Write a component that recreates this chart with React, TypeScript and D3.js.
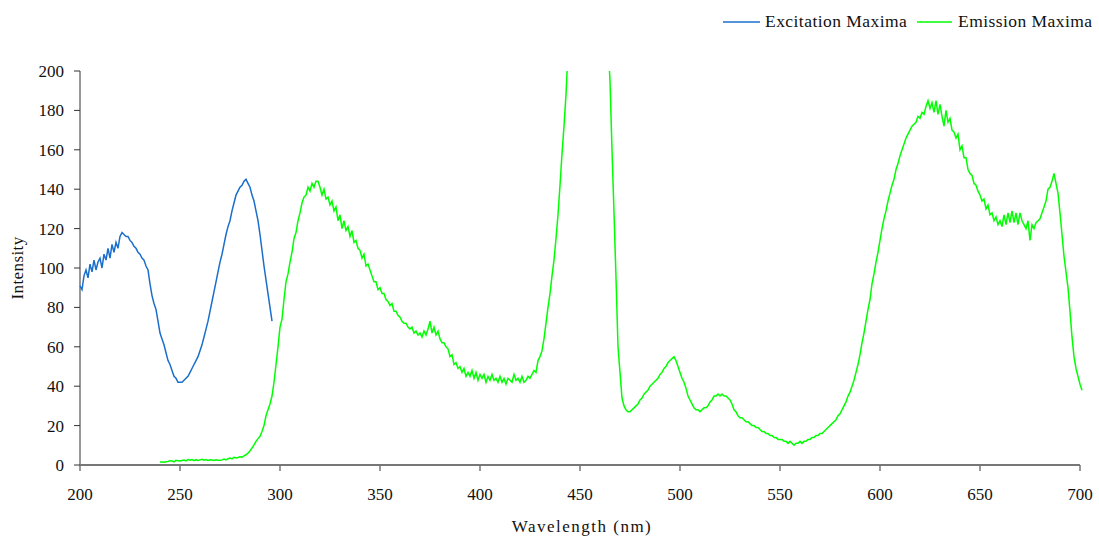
import React from "react";
import * as d3 from "d3";

const xTicks = [200, 250, 300, 350, 400, 450, 500, 550, 600, 650, 700];
const yTicks = [0, 20, 40, 60, 80, 100, 120, 140, 160, 180, 200];

const excitationStart = 200;
const excitationValues = [
  91, 89, 96, 99, 95, 102, 98, 104, 99, 103,
  105, 100, 107, 104, 110, 105, 112, 108, 113, 110,
  116, 118, 117, 116, 116, 114, 113, 111, 110, 108,
  107, 105, 104, 101, 99, 92, 86, 82, 79, 73,
  67, 64, 61, 57, 53, 51, 48, 45, 44, 42,
  42, 42, 43, 44, 45, 47, 49, 51, 53, 55,
  58, 61, 65, 69, 73, 78, 83, 88, 93, 98,
  103, 107, 112, 117, 121, 124, 129, 133, 137, 139,
  141, 142, 144, 145, 143, 141, 137, 134, 129, 124,
  117, 109, 101, 94, 87, 80, 73,
];

const emissionStart = 240;
const emissionValues = [
  1.5, 1.5, 1.4, 1.6, 1.8, 2.2, 2.0, 1.6, 2.4, 2.2,
  2.0, 2.3, 2.5, 2.1, 2.8, 2.4, 2.8, 2.2, 2.7, 2.3,
  2.6, 2.9, 2.4, 2.8, 2.3, 2.7, 2.5, 2.3, 2.6, 2.4,
  2.4, 2.6, 3.0, 2.6, 3.2, 3.5, 3.1, 3.9, 3.6, 3.8,
  4.2, 4.0, 4.6, 5.2, 6.0, 7.2, 8.6, 10.2, 12.0, 13.4,
  14.6, 17, 20, 25, 28, 31, 35, 42, 51, 60,
  70, 74, 84, 93, 97, 103, 108, 115, 118, 124,
  128, 133, 136, 137, 141, 139, 143, 141, 144, 144,
  141, 137, 140, 135, 136, 132, 134, 129, 131, 124,
  127, 120, 124, 119, 121, 116, 119, 113, 114, 110,
  109, 105, 107, 101, 102, 99, 96, 93, 93, 89,
  90, 87, 87, 84, 83, 81, 82, 78, 78, 76,
  75, 73, 72, 72, 70, 69, 70, 67, 68, 66,
  67, 65, 68, 66, 69, 73, 67, 70, 66, 68,
  64, 62, 62, 60, 59, 55, 56, 51, 52, 49,
  50, 47, 49, 45, 47, 45, 48, 44, 47, 43,
  46, 44, 46, 42, 45, 43, 46, 43, 44, 42,
  45, 42, 44, 41, 44, 43, 42, 46, 43, 44,
  42, 45, 42, 43, 45, 44, 46, 48, 47, 53,
  55, 58, 64, 72, 80, 87, 96, 104, 115, 127,
  142, 158, 172, 188, 210, 240, 275, 310, 350, 380,
  420, 440, 450, 455, 450, 440, 420, 400, 370, 340,
  300, 280, 260, 240, 215, 195, 160, 128, 95, 60,
  47, 34, 30, 28, 27, 27, 28, 29, 30, 31,
  33, 34, 36, 37, 38, 40, 41, 42, 43, 44,
  46, 47, 49, 50, 52, 53, 54, 55, 53, 50,
  47, 44, 42, 39, 35, 33, 31, 29, 28, 28,
  27, 28, 29, 29, 30, 32, 33, 35, 35, 36,
  35, 36, 35, 35, 34, 33, 31, 28, 27, 25,
  24, 24, 23, 22, 22, 21, 20, 20, 19, 19,
  18, 17, 17, 16, 16, 15, 15, 14, 14, 13,
  13, 13, 12, 12, 11, 12, 11, 10, 11, 11,
  12, 11, 12, 12, 13, 13, 14, 14, 15, 15,
  16, 16, 17, 18, 19, 20, 21, 22, 23, 25,
  26, 28, 30, 32, 35, 37, 40, 43, 47, 51,
  56, 62, 67, 73, 79, 84, 92, 97, 103, 108,
  114, 120, 125, 129, 134, 138, 142, 145, 150, 153,
  157, 160, 163, 166, 168, 170, 172, 173, 174, 177,
  176, 179, 178, 182, 185, 181, 184, 179, 185, 178,
  183, 177, 172, 180, 174, 176, 170, 169, 166, 168,
  160, 162, 156, 156, 150, 148, 147, 143, 142, 139,
  137, 134, 135, 130, 132, 127, 128, 124, 126, 122,
  124, 121, 127, 122, 128, 123, 129, 123, 128, 122,
  128, 124, 122, 120, 124, 114, 122, 120, 123, 124,
  125, 128, 131, 134, 140, 141, 144, 148, 143, 138,
  128, 117, 106, 98, 90, 78, 65, 55, 49, 45,
  41, 38,
];

const seriesNames = ["Excitation Maxima", "Emission Maxima"];
const seriesColors = ["#1a6fcc", "#00ff00"];

const FONT = "Liberation Serif";

export default function App() {
  const W = 1099;
  const H = 539;
  const left = 80;
  const right = 1080;
  const top = 71;
  const bottom = 465;

  const x = d3.scaleLinear().domain([200, 700]).range([left, right]);
  const y = d3.scaleLinear().domain([0, 200]).range([bottom, top]);

  const exData = excitationValues.map((v, i) => [excitationStart + i, v] as [number, number]);
  const emData = emissionValues.map((v, i) => [emissionStart + i, v] as [number, number]);

  const line = d3
    .line<[number, number]>()
    .x((d) => x(d[0]))
    .y((d) => y(d[1]));

  const legendItems = [
    { name: seriesNames[0], color: seriesColors[0], x1: 723, x2: 760, tx: 765 },
    { name: seriesNames[1], color: seriesColors[1], x1: 917, x2: 952, tx: 958 },
  ];

  const ts: React.CSSProperties = { fontFamily: FONT, fontSize: 17 };

  return (
    <svg width={W} height={H} style={{ position: "absolute", left: 0, top: 0, background: "#fff" }}>
      <defs>
        <clipPath id="plotClip">
          <rect x={left - 2} y={top} width={right - left + 10} height={bottom - top + 5} />
        </clipPath>
      </defs>

      {legendItems.map((l) => (
        <g key={l.name}>
          <line x1={l.x1} x2={l.x2} y1={22} y2={22} stroke={l.color} strokeWidth={1.6} />
          <text
            x={l.tx}
            y={27}
            style={{ fontFamily: FONT, fontSize: 17.5, letterSpacing: "0.45px" }}
            fill="#111"
          >
            {l.name}
          </text>
        </g>
      ))}

      <line x1={left} x2={left} y1={top} y2={bottom} stroke="#333" strokeWidth={1} />
      {yTicks.map((t) => (
        <g key={"y" + t}>
          <line x1={left - 6} x2={left} y1={y(t)} y2={y(t)} stroke="#333" strokeWidth={1} />
          <text x={64} y={y(t) + 6} style={ts} textAnchor="end" fill="#111">
            {t}
          </text>
        </g>
      ))}

      {xTicks.map((t) => (
        <g key={"x" + t}>
          <line x1={x(t)} x2={x(t)} y1={bottom} y2={bottom + 6} stroke="#333" strokeWidth={1} />
          <text x={x(t)} y={500} style={ts} textAnchor="middle" fill="#111">
            {t}
          </text>
        </g>
      ))}
      <line x1={left} x2={right} y1={bottom} y2={bottom} stroke="#777" strokeWidth={2} />

      <text x={582} y={532} style={{ ...ts, letterSpacing: "1.5px" }} textAnchor="middle" fill="#111">
        Wavelength (nm)
      </text>
      <text
        transform="translate(23, 268) rotate(-90)"
        style={{ ...ts, letterSpacing: "0.4px" }}
        textAnchor="middle"
        fill="#111"
      >
        Intensity
      </text>

      <g clipPath="url(#plotClip)">
        <path d={line(exData) || ""} fill="none" stroke={seriesColors[0]} strokeWidth={1.5} />
        <path d={line(emData) || ""} fill="none" stroke={seriesColors[1]} strokeWidth={1.5} />
      </g>
    </svg>
  );
}
